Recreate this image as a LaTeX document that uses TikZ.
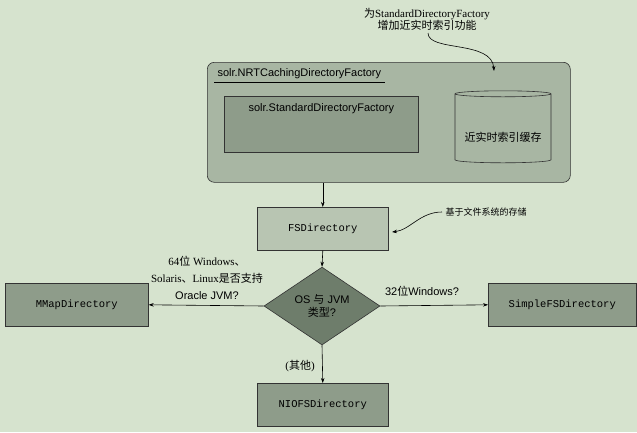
\documentclass[tikz,border=0pt]{standalone}
\usepackage{fontspec}
\setmainfont{Liberation Serif}
\setsansfont{Liberation Sans}
\setmonofont{Liberation Mono}
\newfontfamily\cjk{Noto Sans CJK SC}
\usetikzlibrary{shapes.geometric,arrows.meta}
\definecolor{bg}{HTML}{D6E3CE}
\definecolor{outerc}{HTML}{A8B6A3}
\definecolor{midc}{HTML}{8E9C8A}
\definecolor{lightc}{HTML}{B8C5B2}
\definecolor{darkc}{HTML}{6E7D6B}
\tikzset{
  box/.style={draw=black!80, line width=0.6pt, minimum height=43pt, font=\ttfamily\fontsize{10.5}{12}\selectfont},
  arr/.style={-{Stealth[length=5pt,width=3.5pt]}, line width=0.6pt},
  lbl/.style={font=\fontsize{11}{13}\selectfont, align=center},
}
\begin{document}
\begin{tikzpicture}[x=1pt,y=-1pt]
\fill[bg] (0,0) rectangle (637,432);
\useasboundingbox (0,0) rectangle (637,432);
% outer
\node[draw=black!80, line width=0.6pt, fill=outerc, rounded corners=7pt, minimum width=363pt, minimum height=120pt, anchor=north west] (outer) at (207,62) {};
\node[anchor=west, font=\sffamily\fontsize{11}{12}\selectfont] (ttl) at (214,74) {solr.NRTCachingDirectoryFactory};
\draw[line width=0.6pt] (ttl.south west) -- (ttl.south east);
\node[draw=black!80, line width=0.6pt, fill=midc, minimum width=194pt, minimum height=56pt, anchor=north west] (std) at (224,96) {};
\node[anchor=north, font=\sffamily\fontsize{11}{12}\selectfont] (stdt) at (std.north) [yshift=-4pt] {solr.StandardDirectoryFactory};
\node[cylinder, shape border rotate=90, draw=black!80, line width=0.6pt, minimum width=96pt, minimum height=72pt, aspect=0.9, cylinder uses custom fill, cylinder body fill=outerc, cylinder end fill=outerc] (cache) at (503,129) {};
\node[font=\cjk\fontsize{11}{12}\selectfont] (cachet) at (503,137) {近实时索引缓存};
% top annotation
\node[lbl] (ann1) at (427,19) {{\cjk 为}StandardDirectoryFactory\\[-1pt]{\cjk 增加近实时索引功能}};
\coordinate (a1) at (494,71);
\draw[arr] (428,33) .. controls (428,52) and (492,40) .. (a1);
% FS
\node[box, fill=lightc, minimum width=131pt, anchor=north west] (fs) at (257,207) {FSDirectory};
\draw[arr] (outer.south -| fs.north) -- (fs.north);
\node[font=\cjk\fontsize{9}{10}\selectfont, anchor=west] (ann2) at (442,212) {基于文件系统的存储};
\draw[arr] (ann2.west) .. controls (420,212) and (410,230) .. (392,232);
% diamond
\node[diamond, draw=black!80, line width=0.6pt, fill=darkc, minimum width=116pt, minimum height=72pt, inner sep=0pt, align=center, font=\sffamily\fontsize{11}{13}\selectfont] (os) at (322,306) {OS {\cjk 与} JVM\\{\cjk 类型}?};
\draw[arr] (fs.south) -- (os.north);
% outputs
\node[box, fill=midc, minimum width=143pt, anchor=north west] (mm) at (5,283) {MMapDirectory};
\node[box, fill=midc, minimum width=148pt, anchor=north west] (sfs) at (488,283) {SimpleFSDirectory};
\node[box, fill=midc, minimum width=131pt, anchor=north west] (nio) at (257,383) {NIOFSDirectory};
\draw[arr] (os.west) -- (mm.east);
\draw[arr] (os.east) -- (sfs.west);
\draw[arr] (os.south) -- (nio.north);
\node[lbl, font=\fontsize{11}{17}\selectfont] (l1) at (207,278) {64{\cjk 位} Windows{\cjk 、}\\Solaris{\cjk 、}Linux{\cjk 是否支持}\\{\sffamily Oracle JVM?}};
\node[lbl, font=\sffamily\fontsize{11}{12}\selectfont] (l2) at (422,291) {32{\cjk 位}Windows?};
\node[lbl] (l3) at (300,366) {({\cjk 其他})};
\end{tikzpicture}
\end{document}
